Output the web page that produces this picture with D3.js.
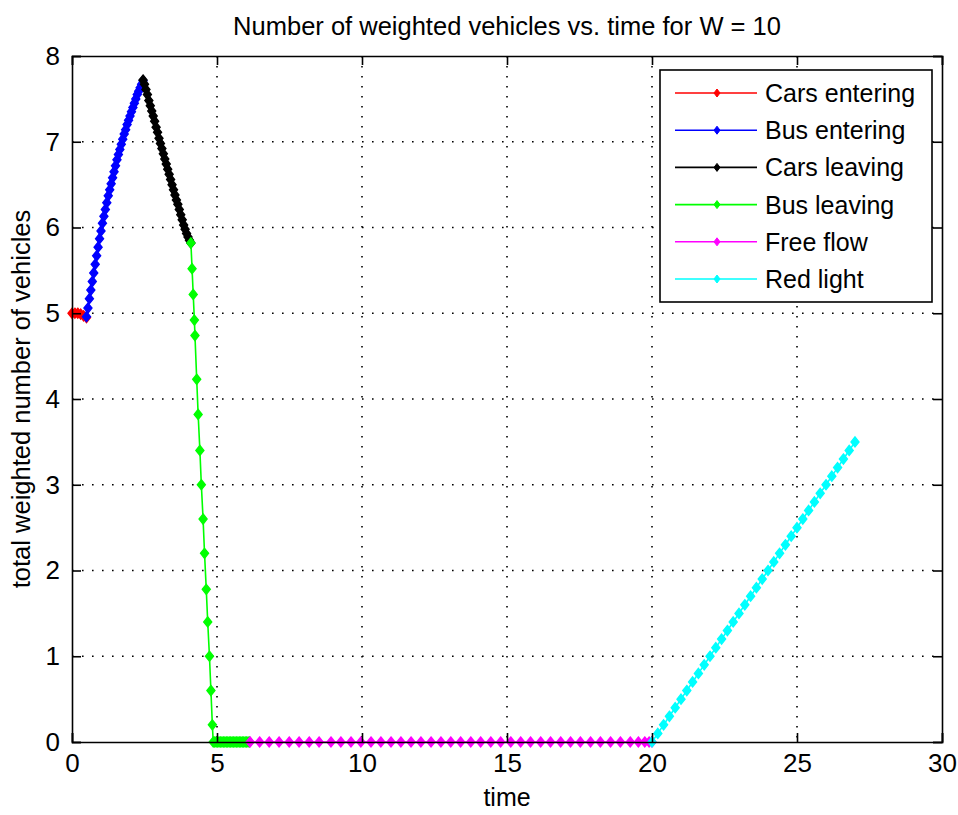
<!DOCTYPE html>
<html>
<head>
<meta charset="utf-8">
<script src="https://cdn.jsdelivr.net/npm/d3@7"></script>
<style>
  body { margin: 0; background: #fff; }
  text { font-family: "Liberation Sans", Arial, sans-serif; fill: #000; }
</style>
</head>
<body>
<div id="chart"></div>
<script>
// ---- data ----
const xTicks = [0, 5, 10, 15, 20, 25, 30];
const yTicks = [0, 1, 2, 3, 4, 5, 6, 7, 8];

const carsEnterT = [0, 0.1, 0.2, 0.3, 0.4, 0.5];
const carsEnterV = [5.0, 5.0, 5.0, 4.99, 4.97, 4.95];

const busEnterT = [0.50, 0.55, 0.60, 0.65, 0.70, 0.75, 0.80, 0.85, 0.90, 0.95, 1.00, 1.05, 1.10, 1.15, 1.20, 1.25, 1.30, 1.35, 1.40, 1.45,
                   1.50, 1.55, 1.60, 1.65, 1.70, 1.75, 1.80, 1.85, 1.90, 1.95, 2.00, 2.05, 2.10, 2.15, 2.20, 2.25, 2.30, 2.35, 2.40, 2.45];
const busEnterV = [4.96, 5.06, 5.17, 5.27, 5.37, 5.47, 5.57, 5.67, 5.77, 5.87, 5.96, 6.05, 6.13, 6.21, 6.29, 6.37, 6.44, 6.51, 6.58, 6.65,
                   6.72, 6.79, 6.85, 6.91, 6.97, 7.03, 7.09, 7.14, 7.20, 7.25, 7.30, 7.35, 7.40, 7.45, 7.50, 7.55, 7.59, 7.63, 7.67, 7.71];

const carsLeaveT = [2.45, 2.50, 2.55, 2.60, 2.65, 2.70, 2.75, 2.80, 2.85, 2.90, 2.95, 3.00, 3.05, 3.10, 3.15, 3.20, 3.25,
                    3.30, 3.35, 3.40, 3.45, 3.50, 3.55, 3.60, 3.65, 3.70, 3.75, 3.80, 3.85, 3.90, 3.95, 4.00, 4.05, 4.10];
const carsLeaveV = [7.72, 7.67, 7.61, 7.55, 7.48, 7.42, 7.36, 7.30, 7.24, 7.17, 7.11, 7.04, 6.98, 6.92, 6.86, 6.80, 6.74,
                    6.68, 6.62, 6.56, 6.50, 6.44, 6.38, 6.32, 6.27, 6.21, 6.15, 6.09, 6.03, 5.98, 5.93, 5.89, 5.85, 5.82];

const busLeaveT = [4.10, 4.14, 4.18, 4.22, 4.24, 4.30, 4.35, 4.41, 4.46, 4.52, 4.57, 4.63, 4.68, 4.74, 4.79, 4.84, 4.87,
                   4.92, 4.97, 5.02, 5.07, 5.12, 5.17, 5.22, 5.27, 5.32, 5.37, 5.42, 5.47, 5.52, 5.57, 5.62, 5.67, 5.72,
                   5.77, 5.82, 5.87, 5.92, 5.97, 6.02, 6.07, 6.12];
const busLeaveV = [5.82, 5.52, 5.22, 4.92, 4.74, 4.23, 3.82, 3.40, 3.00, 2.60, 2.20, 1.78, 1.40, 1.00, 0.60, 0.20, 0,
                   0, 0, 0, 0, 0, 0, 0, 0, 0, 0, 0, 0, 0, 0, 0, 0, 0,
                   0, 0, 0, 0, 0, 0, 0, 0];

const freeFlowT = [6.14, 6.47, 6.80, 7.14, 7.49, 7.83, 8.18, 8.52, 8.93, 9.27, 9.62, 9.96, 10.31, 10.65, 11.00, 11.34, 11.69,
                   12.03, 12.38, 12.72, 13.06, 13.40, 13.75, 14.09, 14.44, 14.78, 15.13, 15.47, 15.81, 16.16, 16.50, 16.85,
                   17.19, 17.53, 17.88, 18.22, 18.57, 18.91, 19.25, 19.53, 19.75, 19.90, 20.0];
const freeFlowV = [0, 0, 0, 0, 0, 0, 0, 0, 0, 0, 0, 0, 0, 0, 0, 0, 0,
                   0, 0, 0, 0, 0, 0, 0, 0, 0, 0, 0, 0, 0, 0, 0,
                   0, 0, 0, 0, 0, 0, 0, 0, 0, 0, 0];

const redLightT = [20.0, 20.2, 20.4, 20.6, 20.8, 21.0, 21.2, 21.4, 21.6, 21.8, 22.0, 22.2, 22.4, 22.6, 22.8, 23.0, 23.2, 23.4,
                   23.6, 23.8, 24.0, 24.2, 24.4, 24.6, 24.8, 25.0, 25.2, 25.4, 25.6, 25.8, 26.0, 26.2, 26.4, 26.6, 26.8, 27.0];
const redLightV = [0, 0.1, 0.2, 0.3, 0.4, 0.5, 0.6, 0.7, 0.8, 0.9, 1.0, 1.1, 1.2, 1.3, 1.4, 1.5, 1.6, 1.7,
                   1.8, 1.9, 2.0, 2.1, 2.2, 2.3, 2.4, 2.5, 2.6, 2.7, 2.8, 2.9, 3.0, 3.1, 3.2, 3.3, 3.4, 3.5];

const seriesNames = ["Cars entering", "Bus entering", "Cars leaving", "Bus leaving", "Free flow", "Red light"];
const seriesColors = ["#ff0000", "#0000ff", "#000000", "#00ff00", "#ff00ff", "#00ffff"];

const series = [
  [carsEnterT, carsEnterV], [busEnterT, busEnterV], [carsLeaveT, carsLeaveV],
  [busLeaveT, busLeaveV], [freeFlowT, freeFlowV], [redLightT, redLightV]
].map((s, i) => ({
  name: seriesNames[i],
  color: seriesColors[i],
  points: s[0].map((t, j) => ({ t: t, v: s[1][j] }))
}));

// ---- layout ----
const W = 958, H = 815;
const margin = { top: 56, right: 16, bottom: 73, left: 72 };
const width = W - margin.left - margin.right,
      height = H - margin.top - margin.bottom;

const svg = d3.select("#chart").append("svg")
    .attr("width", W)
    .attr("height", H);

svg.append("rect").attr("width", W).attr("height", H).attr("fill", "#fff");

const g = svg.append("g")
    .attr("transform", `translate(${margin.left},${margin.top})`);

const x = d3.scaleLinear().domain([0, 30]).range([0, width]);
const y = d3.scaleLinear().domain([0, 8]).range([height, 0]);

// grid
g.append("g")
  .selectAll("line")
  .data(xTicks.slice(1, -1))
  .enter().append("line")
    .attr("x1", d => x(d)).attr("x2", d => x(d))
    .attr("y1", 0).attr("y2", height)
    .attr("stroke", "#000")
    .attr("stroke-width", 1.6)
    .attr("stroke-dasharray", "1.6,8.4");

g.append("g")
  .selectAll("line")
  .data(yTicks.slice(1, -1))
  .enter().append("line")
    .attr("x1", 0).attr("x2", width)
    .attr("y1", d => y(d)).attr("y2", d => y(d))
    .attr("stroke", "#000")
    .attr("stroke-width", 1.6)
    .attr("stroke-dasharray", "1.6,8.4");

// marker: small diamond
const marker = "M0,-5L4,0L0,5L-4,0Z";

const line = d3.line().x(d => x(d.t)).y(d => y(d.v));

series.forEach(s => {
  g.append("path")
    .datum(s.points)
    .attr("d", line)
    .attr("fill", "none")
    .attr("stroke", s.color)
    .attr("stroke-width", 1.6);

  g.append("g")
    .selectAll("path")
    .data(s.points)
    .enter().append("path")
      .attr("d", marker)
      .attr("transform", d => `translate(${x(d.t)},${y(d.v)})`)
      .attr("fill", s.color)
      .attr("stroke", s.color)
      .attr("stroke-width", 1.4);
});

// axes (drawn on top of data)
const xAxis = g.append("g")
    .attr("transform", `translate(0,${height})`)
    .call(d3.axisBottom(x).tickValues(xTicks).tickSize(-9).tickPadding(12));
const xTop = g.append("g")
    .call(d3.axisTop(x).tickValues(xTicks).tickSize(-9).tickFormat(""));
const yAxis = g.append("g")
    .call(d3.axisLeft(y).tickValues(yTicks).tickSize(-9).tickPadding(12));
const yRight = g.append("g")
    .attr("transform", `translate(${width},0)`)
    .call(d3.axisRight(y).tickValues(yTicks).tickSize(-9).tickFormat(""));

[xAxis, xTop, yAxis, yRight].forEach(a => {
  a.select(".domain").attr("stroke", "#000").attr("stroke-width", 1.6);
  a.selectAll(".tick line").attr("stroke", "#000").attr("stroke-width", 1.6);
  a.selectAll("text")
    .attr("font-size", 26)
    .attr("font-family", "Liberation Sans, Arial, sans-serif")
    .attr("fill", "#000");
});

// titles
svg.append("text")
    .attr("x", margin.left + width / 2)
    .attr("y", 35)
    .attr("text-anchor", "middle")
    .attr("font-size", 25.5)
    .text("Number of weighted vehicles vs. time for W = 10");

svg.append("text")
    .attr("x", margin.left + width / 2)
    .attr("y", 806)
    .attr("text-anchor", "middle")
    .attr("font-size", 25)
    .text("time");

svg.append("text")
    .attr("transform", `translate(30,${margin.top + height / 2}) rotate(-90)`)
    .attr("text-anchor", "middle")
    .attr("font-size", 25.5)
    .text("total weighted number of vehicles");

// legend
const legend = svg.append("g");
legend.append("rect")
    .attr("x", 660).attr("y", 70)
    .attr("width", 272).attr("height", 232)
    .attr("fill", "#fff")
    .attr("stroke", "#000")
    .attr("stroke-width", 1.6);

const item = legend.selectAll("g.item")
    .data(series)
    .enter().append("g")
    .attr("class", "item")
    .attr("transform", (d, i) => `translate(0,${93 + i * 37.2})`);

item.append("line")
    .attr("x1", 675).attr("x2", 757)
    .attr("stroke", d => d.color)
    .attr("stroke-width", 1.6);

item.append("path")
    .attr("d", "M0,-4L3,0L0,4L-3,0Z")
    .attr("transform", "translate(717,0)")
    .attr("fill", d => d.color)
    .attr("stroke", d => d.color)
    .attr("stroke-width", 1);

item.append("text")
    .attr("x", 765)
    .attr("dy", "0.36em")
    .attr("font-size", 25)
    .text(d => d.name);
</script>
</body>
</html>
